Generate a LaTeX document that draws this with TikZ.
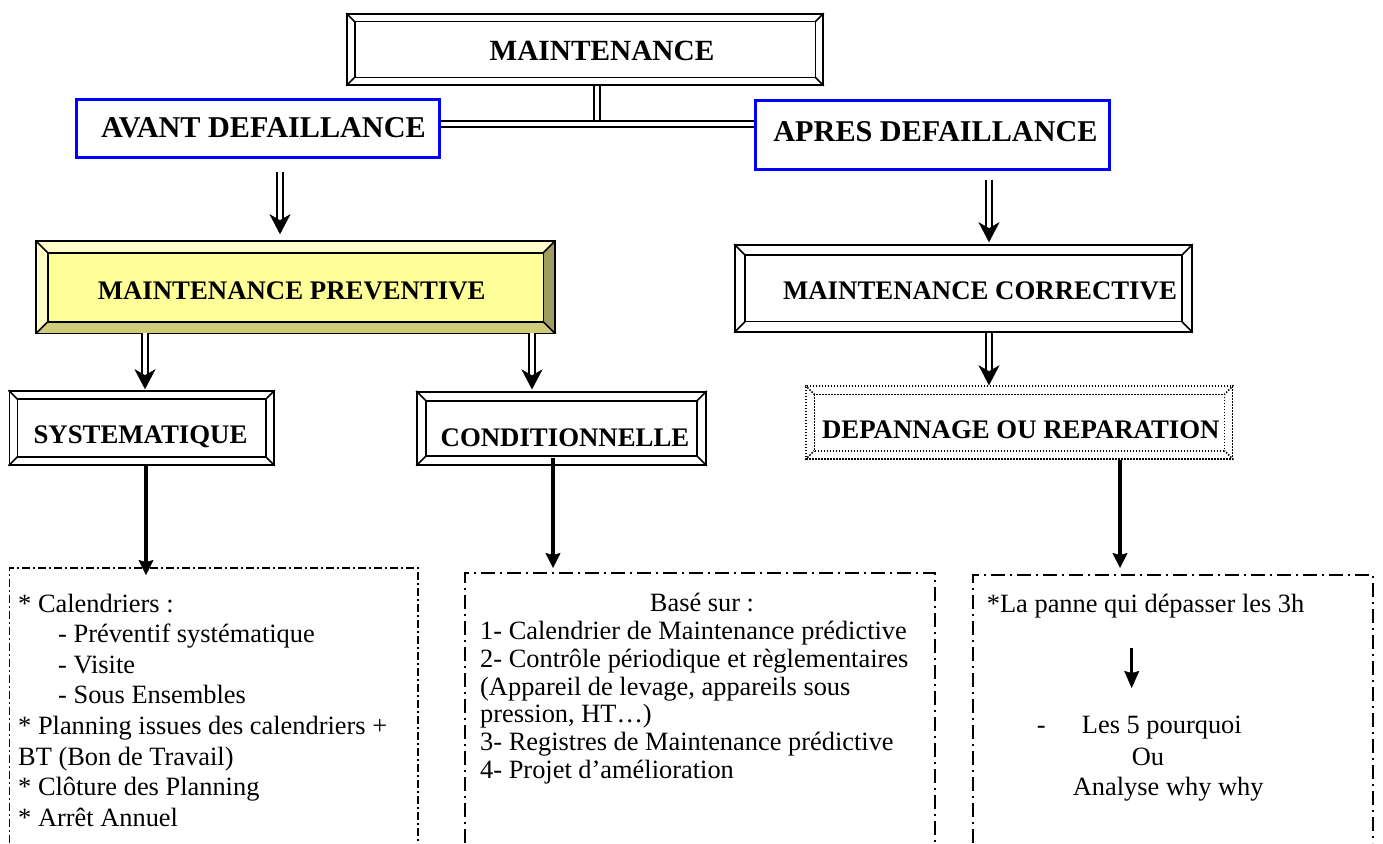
\documentclass[tikz,border=0pt]{standalone}
\usepackage{fontspec}
\setmainfont{Liberation Serif}
\usetikzlibrary{arrows.meta,calc}
\definecolor{yface}{HTML}{FFFF99}
\definecolor{ytop}{HTML}{FFFFCC}
\definecolor{yleft}{HTML}{FFFFC4}
\definecolor{ybot}{HTML}{CCCC7A}
\definecolor{yright}{HTML}{9E9E62}
\definecolor{bblue}{HTML}{0000FF}
\newcommand\bevlines[3][]{%
  \draw[#1] ($(#2.north west)+(#3,#3)$) rectangle ($(#2.south east)+(-#3,-#3)$);
  \draw[#1] (#2.north west) -- ++(#3,#3);
  \draw[#1] (#2.north east) -- ++(-#3,#3);
  \draw[#1] (#2.south west) -- ++(#3,-#3);
  \draw[#1] (#2.south east) -- ++(-#3,-#3);
}
\newcommand\dblarrow[4]{%
  \draw[dbl, shorten <=#3pt, shorten >={#4pt+14pt}] (#1) -- (#2);
  \draw[dtip, shorten <=#3pt, shorten >=#4pt] (#1) -- (#2);
}
\begin{document}
\begin{tikzpicture}[x=1pt, y=-1pt,
  bev/.style={draw, line width=1.6pt, fill=white, inner sep=0pt},
  bevl/.style={line width=1.6pt},
  dotbev/.style={draw, line width=1.5pt, dash pattern=on 1.5pt off 1.5pt, fill=white, inner sep=0pt},
  dotl/.style={line width=1.5pt, dash pattern=on 1.5pt off 1.5pt},
  bluebox/.style={draw=bblue, line width=3pt, fill=white, inner sep=0pt},
  hdrT/.style={font=\fontsize{29.3}{32}\selectfont\bfseries, inner sep=0pt, anchor=base},
  hdrA/.style={font=\fontsize{30.2}{33}\selectfont\bfseries, inner sep=0pt, anchor=base},
  hdrB/.style={font=\fontsize{26.8}{30}\selectfont\bfseries, inner sep=0pt, anchor=base},
  body/.style={font=\fontsize{26.4}{30}\selectfont, inner sep=0pt, anchor=base west},
  dbl/.style={double, double distance=3.6pt, line width=1.8pt},
  dtip/.style={white, line width=0.3pt, -{Stealth[black, length=20pt, width=21pt, inset=6pt]}},
  sarr/.style={line width=4pt, -{Stealth[length=15pt, width=15pt, inset=2pt, line width=0.5pt]}},
  sarrs/.style={line width=3pt, -{Stealth[length=17pt, width=15pt, inset=2pt, line width=0.5pt]}},
  ddl/.style={line width=1.6pt, dash pattern=on 8pt off 3pt on 2pt off 3pt},
  ddm/.style={line width=1.6pt, dash pattern=on 14pt off 5pt on 2pt off 5pt}]
\useasboundingbox (0,0) rectangle (1383,843);

% --- top box
\node[bev, minimum width=476, minimum height=71] (mt) at (585,49.5) {};
\bevlines[bevl]{mt}{8.5}
\node[hdrT] (mtT) at (602,60) {MAINTENANCE};

% --- blue boxes
\node[bluebox, minimum width=363, minimum height=58] (av) at (257.5,128) {};
\node[hdrA] (avT) at (263.4,137.7) {AVANT DEFAILLANCE};
\node[bluebox, minimum width=354, minimum height=69] (ap) at (932,134.5) {};
\node[hdrA] (apT) at (935.5,141.7) {APRES DEFAILLANCE};

% --- preventive (yellow)
\node[bev, fill=yface, minimum width=517, minimum height=90.6] (pv) at (295.5,287.3) {};
\fill[ytop] (pv.north west) -- (pv.north east) -- ++(-11.5,11.5) -- ($(pv.north west)+(11.5,11.5)$) -- cycle;
\fill[yleft] (pv.north west) -- ++(11.5,11.5) -- ($(pv.south west)+(11.5,-11.5)$) -- (pv.south west) -- cycle;
\fill[ybot] (pv.south west) -- (pv.south east) -- ++(-11.5,-11.5) -- ($(pv.south west)+(11.5,-11.5)$) -- cycle;
\fill[yright] (pv.north east) -- (pv.south east) -- ++(-11.5,-11.5) -- ($(pv.north east)+(-11.5,11.5)$) -- cycle;
\draw[bevl] (pv.north west) rectangle (pv.south east);
\bevlines[bevl]{pv}{11.5}
\node[hdrB] (pvT) at (291.7,299) {MAINTENANCE PREVENTIVE};

% --- corrective
\node[bev, minimum width=457, minimum height=86.7] (cr) at (963.5,288.35) {};
\bevlines[bevl]{cr}{11}
\node[hdrB] (crT) at (980,299) {MAINTENANCE CORRECTIVE};

% --- systematique / conditionnelle / depannage
\node[bev, minimum width=264.7, minimum height=74] (sy) at (141.65,428) {};
\bevlines[bevl]{sy}{9}
\node[hdrB] (syT) at (140.5,443) {SYSTEMATIQUE};

\node[bev, minimum width=289, minimum height=73.3] (co) at (561.5,428.35) {};
\bevlines[bevl]{co}{10}
\node[hdrB] (coT) at (565,446) {CONDITIONNELLE};

\node[dotbev, minimum width=426.7, minimum height=73] (dp) at (1019.35,422.5) {};
\bevlines[dotl]{dp}{9}
\node[hdrB] (dpT) at (1020.8,438) {DEPANNAGE OU REPARATION};

% --- connector coordinates
\coordinate (j) at (597,124);
\coordinate (xa) at (280,0);
\coordinate (xb) at (989,0);
\coordinate (xc) at (145,0);
\coordinate (xd) at (532,0);
\coordinate (xe) at (146,0);
\coordinate (xf) at (553,0);
\coordinate (xg) at (1120,0);
\coordinate (blt) at (146,568);
\coordinate (bmt) at (553,573);
\coordinate (brt) at (1120,575);

% --- double connectors
\draw[dbl, shorten >=3pt] (mt.south -| j) -- (j);
\draw[dbl] (av.east |- j) -- (ap.west |- j);
\dblarrow{av.south -| xa}{pv.north -| xa}{13}{7}
\dblarrow{ap.south -| xb}{cr.north -| xb}{9}{2}
\dblarrow{pv.south -| xc}{sy.north -| xc}{0}{1}
\dblarrow{pv.south -| xd}{co.north -| xd}{0}{1.5}
\dblarrow{cr.south -| xb}{dp.north -| xb}{0}{0}

% --- bottom boxes
\draw[ddl] (9.3,843) |- (blt) -| (418,843);
\draw[ddm] (465,843) |- (bmt) -| (935,843);
\draw[ddm] (973,843) |- (brt) -| (1373,843);

% --- single arrows
\draw[sarr, shorten >=-7pt] (sy.south -| xe) -- (blt);
\draw[sarr, shorten <=-8pt, shorten >=5pt] (co.south -| xf) -- (bmt);
\draw[sarr, shorten >=7pt] (dp.south -| xg) -- (brt);

% --- left box text
\node[body] (l1) at (18,612) {* Calendriers :};
\node[body] (l2) at (58,642.6) {- Préventif systématique};
\node[body] (l3) at (58,673.2) {- Visite};
\node[body] (l4) at (58,703.8) {- Sous Ensembles};
\node[body] (l5) at (18,734.4) {* Planning issues des calendriers +};
\node[body] (l6) at (18,765) {BT (Bon de Travail)};
\node[body] (l7) at (18,795.6) {* Clôture des Planning};
\node[body] (l8) at (18,826.2) {* Arrêt Annuel};

% --- middle box text
\node[body, anchor=base] (m0) at (702,611) {Basé sur :};
\node[body] (m1) at (480,639.7) {1- Calendrier de Maintenance prédictive};
\node[body] (m2) at (480,667.4) {2- Contrôle périodique et règlementaires};
\node[body] (m3) at (480,695.1) {(Appareil de levage, appareils sous};
\node[body] (m4) at (480,722.8) {pression, HT…)};
\node[body] (m5) at (480,750.5) {3- Registres de Maintenance prédictive};
\node[body] (m6) at (480,778.2) {4- Projet d’amélioration};

% --- right box text
\node[body] (r1) at (986.7,612) {*La panne qui dépasser les 3h};
\coordinate (ra1) at (1131.7,648);
\coordinate (ra2) at (1131.7,688);
\draw[sarrs] (ra1) -- (ra2);
\node[body] (r2) at (1036.7,733.5) {-};
\node[body] (r3) at (1081.7,733.5) {Les 5 pourquoi};
\node[body] (r4) at (1131.7,765) {Ou};
\node[body] (r5) at (1072.7,795) {Analyse why why};
\end{tikzpicture}
\end{document}
